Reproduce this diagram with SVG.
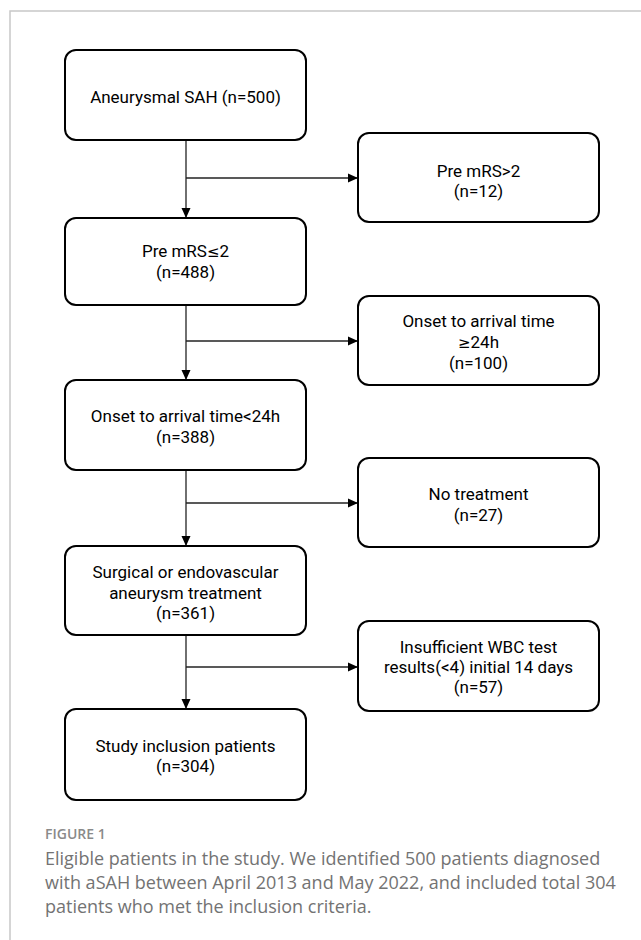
<svg xmlns="http://www.w3.org/2000/svg" width="641" height="940" viewBox="0 0 641 940">
<defs>
<style>
.box{fill:#fff;stroke:#000;stroke-width:2}
.t{font-family:Roboto,"Liberation Sans",sans-serif;font-size:17px;fill:#000;text-anchor:middle}
.m{font-family:"DejaVu Sans",sans-serif;font-size:15px}
.c{stroke:#222;stroke-width:1.3;fill:none}
.cap{font-family:"Open Sans","Liberation Sans",sans-serif;font-size:18px;fill:#737373}
.fig{font-family:"Open Sans","Liberation Sans",sans-serif;font-size:14px;fill:#8a8a8a;font-weight:600}
.frame{stroke:#c8c8c8;stroke-width:1.5;fill:none}
</style>
<marker id="ah" markerWidth="10" markerHeight="10" refX="10" refY="5" orient="auto" markerUnits="userSpaceOnUse">
<path d="M0,0.5 L10,5 L0,9.5 z" fill="#000"/>
</marker>
</defs>
<rect width="641" height="940" fill="#fff"/>
<path class="frame" d="M10,940 V11 H641"/>
<g id="connectors">
<path class="c" d="M186,140 V218" marker-end="url(#ah)"/>
<path class="c" d="M186,178 H358" marker-end="url(#ah)"/>
<path class="c" d="M186,305 V380" marker-end="url(#ah)"/>
<path class="c" d="M186,341 H358" marker-end="url(#ah)"/>
<path class="c" d="M186,470 V546" marker-end="url(#ah)"/>
<path class="c" d="M186,503 H358" marker-end="url(#ah)"/>
<path class="c" d="M186,635 V709" marker-end="url(#ah)"/>
<path class="c" d="M186,667 H358" marker-end="url(#ah)"/>
</g>
<g id="n1"><rect class="box" x="65" y="50" width="241" height="90" rx="11"/><text class="t" x="185.5" y="103">Aneurysmal SAH (n=500)</text></g>
<g id="n2"><rect class="box" x="358" y="133" width="241" height="89" rx="11"/><text class="t" x="478.5" y="177">Pre mRS&gt;2</text><text class="t" x="478.5" y="197">(n=12)</text></g>
<g id="n3"><rect class="box" x="65" y="218" width="241" height="87" rx="11"/><text class="t" x="185.5" y="257">Pre mRS<tspan class="m">≤</tspan>2</text><text class="t" x="185.5" y="278">(n=488)</text></g>
<g id="n4"><rect class="box" x="358" y="296" width="241" height="89" rx="11"/><text class="t" x="478.5" y="327">Onset to arrival time</text><text class="t" x="478.5" y="348"><tspan class="m">≥</tspan>24h</text><text class="t" x="478.5" y="369">(n=100)</text></g>
<g id="n5"><rect class="box" x="65" y="380" width="241" height="90" rx="11"/><text class="t" x="185.5" y="422">Onset to arrival time&lt;24h</text><text class="t" x="185.5" y="443">(n=388)</text></g>
<g id="n6"><rect class="box" x="358" y="458" width="241" height="89" rx="11"/><text class="t" x="478.5" y="500">No treatment</text><text class="t" x="478.5" y="521">(n=27)</text></g>
<g id="n7"><rect class="box" x="65" y="546" width="241" height="89" rx="11"/><text class="t" x="185.5" y="578">Surgical or endovascular</text><text class="t" x="185.5" y="599">aneurysm treatment</text><text class="t" x="185.5" y="619">(n=361)</text></g>
<g id="n8"><rect class="box" x="358" y="621" width="241" height="90" rx="11"/><text class="t" x="478.5" y="653">Insufficient WBC test</text><text class="t" x="478.5" y="673">results(&lt;4) initial 14 days</text><text class="t" x="478.5" y="693">(n=57)</text></g>
<g id="n9"><rect class="box" x="65" y="709" width="241" height="91" rx="11"/><text class="t" x="185.5" y="752">Study inclusion patients</text><text class="t" x="185.5" y="772">(n=304)</text></g>
<g id="caption">
<text class="fig" x="45" y="839">FIGURE 1</text>
<text class="cap" x="45" y="865">Eligible patients in the study. We identified 500 patients diagnosed</text>
<text class="cap" x="45" y="889">with aSAH between April 2013 and May 2022, and included total 304</text>
<text class="cap" x="45" y="913">patients who met the inclusion criteria.</text>
</g>
</svg>
